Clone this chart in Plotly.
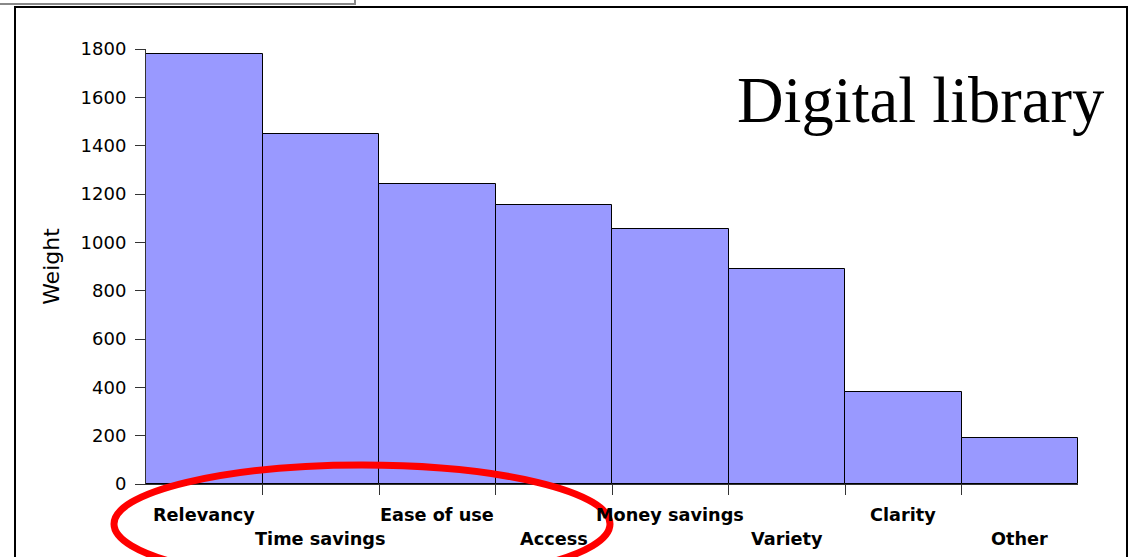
import plotly.graph_objects as go

categories = ["Relevancy", "Time savings", "Ease of use", "Access",
              "Money savings", "Variety", "Clarity", "Other"]
weights = [1780, 1448, 1240, 1155, 1055, 890, 382, 190]
y_ticks = [0, 200, 400, 600, 800, 1000, 1200, 1400, 1600, 1800]

W, H = 1130, 557
L, R, T, B = 146, 1078, 49, 484


def px(x):
    return (x - L) / (R - L)


def py(y):
    return (B - y) / (B - T)


fig = go.Figure()
fig.add_trace(go.Bar(
    x=list(range(len(categories))),
    y=weights,
    width=1,
    marker=dict(color="#9999FF", line=dict(color="black", width=1)),
    showlegend=False,
))

fig.update_layout(
    width=W, height=H,
    margin=dict(l=L, r=W - R, t=T, b=H - B),
    paper_bgcolor="white", plot_bgcolor="white",
    bargap=0,
    font=dict(family="DejaVu Sans", color="black"),
    xaxis=dict(
        range=[-0.5, len(categories) - 0.5],
        tickvals=[i + 0.5 for i in range(len(categories) - 1)],
        ticktext=[""] * (len(categories) - 1),
        ticks="outside", ticklen=10, tickcolor="#333",
        showline=True, linecolor="#333", linewidth=1,
        showgrid=False, zeroline=False,
    ),
    yaxis=dict(
        range=[0, 1800],
        tickvals=y_ticks,
        ticks="outside", ticklen=10, tickcolor="#333",
        showline=True, linecolor="#333", linewidth=1,
        showgrid=False, zeroline=False,
        tickfont=dict(size=18),
        ticklabelstandoff=5,
        title=dict(text="Weight", font=dict(size=22), standoff=14),
    ),
)

for i, c in enumerate(categories):
    fig.add_annotation(
        x=i, xref="x", y=py(515 if i % 2 == 0 else 539), yref="paper",
        text="<b>" + c + "</b>", showarrow=False,
        xanchor="center", yanchor="middle",
        font=dict(size=17.7, family="DejaVu Sans"),
    )

fig.add_annotation(
    x=px(1106), y=py(100), xref="paper", yref="paper",
    text="Digital library", showarrow=False,
    xanchor="right", yanchor="middle",
    font=dict(size=64.5, family="Liberation Serif", color="black"),
)

# frame
fig.add_shape(type="path", xref="paper", yref="paper",
              path=f"M {px(15)},{py(600)} L {px(15)},{py(7)} L {px(1127)},{py(7)} L {px(1127)},{py(600)}",
              line=dict(color="black", width=2), layer="above")
fig.add_shape(type="path", xref="paper", yref="paper",
              path=f"M {px(-5)},{py(4)} L {px(355)},{py(4)} L {px(355)},{py(-5)}",
              line=dict(color="#888", width=2), layer="above")
# red ellipse
fig.add_shape(type="circle", xref="paper", yref="paper",
              x0=px(362 - 248), x1=px(362 + 248), y0=py(524 + 59), y1=py(524 - 59),
              line=dict(color="red", width=7), layer="above")

fig.write_html("out.html")
